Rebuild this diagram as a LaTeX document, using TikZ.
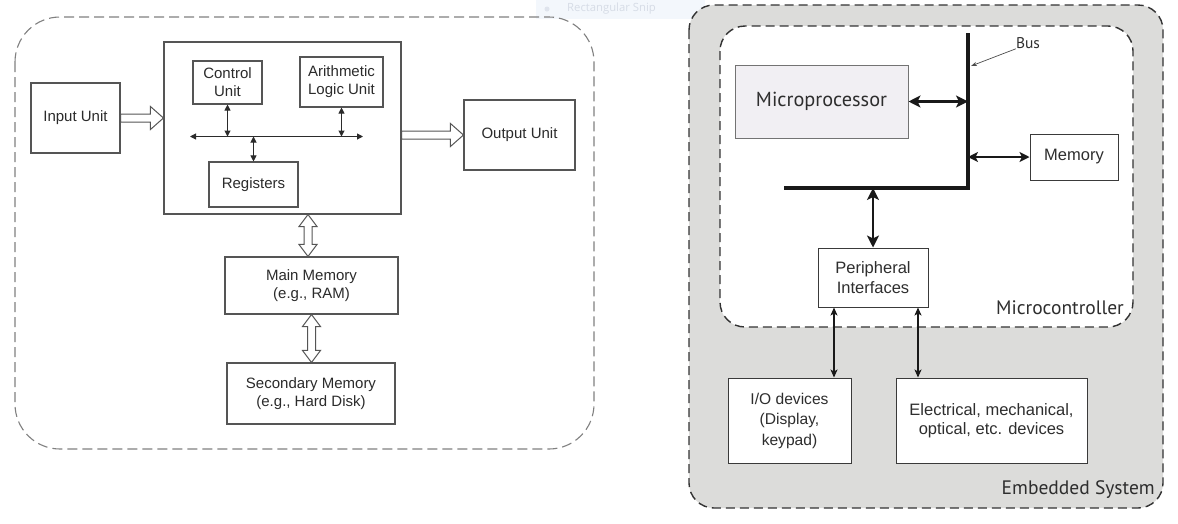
\documentclass[tikz,border=0pt]{standalone}
\usepackage{fontspec}
\setmainfont{Liberation Sans}
\newfontfamily\myr{PT Sans}
\newfontfamily\seg{Open Sans}
\usetikzlibrary{arrows.meta,calc}
\definecolor{lline}{HTML}{555555}
\definecolor{ltext}{HTML}{2B2B2B}
\definecolor{rline}{HTML}{3A3A3A}
\definecolor{rtext}{HTML}{2E2E2E}
\definecolor{panelgray}{HTML}{DCDCDA}
\definecolor{mpfill}{HTML}{F1EFF3}
\definecolor{snipbg}{HTML}{F3F7FC}
\definecolor{sniptext}{HTML}{D6DCE6}
\tikzset{
  lbox/.style={draw=lline, line width=1.1pt, fill=white, inner sep=0pt, align=center,
    text=ltext, font=\fontsize{15}{18}\selectfont},
  rbox/.style={draw=rline, line width=1pt, fill=white, inner sep=0pt, align=center,
    text=rtext, font=\fontsize{16.5}{19.5}\selectfont},
  cpubi/.style={draw=ltext, line width=1pt,
    {Triangle[length=6pt,width=6pt]}-{Triangle[length=6pt,width=6pt]}},
  hollow/.style={draw=lline, line width=1pt, fill=white, line join=miter},
  busline/.style={draw=black!90, line width=3.2pt, line join=miter, line cap=butt},
  thickbi/.style={draw=black!90, line width=2.5pt,
    {Stealth[length=12pt,width=12pt,inset=3pt]}-{Stealth[length=12pt,width=12pt,inset=3pt]}},
  medbi/.style={draw=black!90, line width=2pt,
    {Stealth[length=10pt,width=10pt,inset=2.5pt]}-{Stealth[length=10pt,width=10pt,inset=2.5pt]}},
  thinbi/.style={draw=black!90, line width=1.3pt,
    {Stealth[length=8pt,width=7pt,inset=2pt]}-{Stealth[length=8pt,width=7pt,inset=2pt]}},
  lbl/.style={inner sep=0pt, text=rtext, font=\myr\fontsize{19.5}{22}\selectfont},
}
\newcommand{\hollowH}[2]{%
  \draw[hollow] ($(#1)+(0,-4)$) -- ($(#2)+(-13,-4)$) -- ($(#2)+(-13,-11.5)$) -- (#2)
    -- ($(#2)+(-13,11.5)$) -- ($(#2)+(-13,4)$) -- ($(#1)+(0,4)$) -- cycle;}
\newcommand{\hollowV}[2]{%
  \draw[hollow] (#1) -- ($(#1)+(9,12)$) -- ($(#1)+(4,12)$) -- ($(#2)+(4,-12)$)
    -- ($(#2)+(9,-12)$) -- (#2) -- ($(#2)+(-9,-12)$) -- ($(#2)+(-4,-12)$)
    -- ($(#1)+(-4,12)$) -- ($(#1)+(-9,12)$) -- cycle;}
\begin{document}
\begin{tikzpicture}[x=1pt,y=-1pt]
\useasboundingbox (0,0) rectangle (1178,523);
\fill[white] (0,0) rectangle (1178,523);

% faint overlay band
\fill[snipbg] (536,0) rectangle (705,19);
\fill[sniptext!70!snipbg] (547,9) circle (2.5);
\node[anchor=west, inner sep=0pt, text=sniptext, font=\seg\fontsize{11.3}{13}\selectfont] (snip) at (567,9) {Rectangular Snip};

% ---------- left panel ----------
\draw[draw=black!50, line width=1.1pt, dash pattern=on 10pt off 5pt, rounded corners=45pt]
  (15,17) rectangle (594,449);

\node[lbox, minimum width=89pt, minimum height=70pt] (inp) at (75.5,118) {Input Unit};
\node[lbox, minimum width=237pt, minimum height=172pt] (cpu) at (282.5,128) {};
\node[lbox, minimum width=69pt, minimum height=43pt] (cu) at (227.5,82.5) {Control\\Unit};
\node[lbox, minimum width=83pt, minimum height=50pt] (alu) at (341.5,82) {Arithmetic\\Logic Unit};
\node[lbox, minimum width=89pt, minimum height=45pt] (reg) at (253.5,184.5) {Registers};
\node[lbox, minimum width=111pt, minimum height=70pt] (out) at (519.5,135) {Output Unit};
\node[lbox, minimum width=173pt, minimum height=57pt] (mm) at (311.5,285.5) {Main Memory\\(e.g., RAM)};
\node[lbox, minimum width=168pt, minimum height=61pt] (sm) at (311,393.5) {Secondary Memory\\(e.g., Hard Disk)};

\coordinate (busL) at (190,136.5);
\coordinate (busR) at (363,136.5);
\draw[cpubi] (busL) -- (busR);
\draw[cpubi] (cu.south) -- (cu.south |- busL);
\draw[cpubi] (alu.south) -- (alu.south |- busL);
\draw[cpubi] (reg.north |- busL) -- (reg.north);

\coordinate (ia) at (inp.east);
\coordinate (ib) at (cpu.west |- inp.east);
\hollowH{ia}{ib}
\coordinate (oa) at (cpu.east |- out.west);
\coordinate (ob) at (out.west);
\hollowH{oa}{ob}
\coordinate (cmx) at (308,0);
\coordinate (va) at (cpu.south -| cmx);
\coordinate (vb) at (mm.north -| cmx);
\hollowV{va}{vb}
\coordinate (wa) at (mm.south);
\coordinate (wb) at (sm.north -| mm.south);
\hollowV{wa}{wb}

% ---------- right panel ----------
\draw[fill=panelgray, draw=black!80, line width=1.4pt, dash pattern=on 9pt off 5pt, rounded corners=25pt]
  (689,5) rectangle (1163,508);
\draw[fill=white, draw=black!80, line width=1.4pt, dash pattern=on 9pt off 5pt, rounded corners=25pt]
  (720,26) rectangle (1133,327);

\node[rbox, fill=mpfill, draw=black!55, minimum width=173pt, minimum height=73pt,
  font=\myr\fontsize{20.3}{23}\selectfont] (mp) at (821.5,101.5) {Microprocessor};
\node[rbox, minimum width=88pt, minimum height=46pt] (mem) at (1074,157) {Memory};
\node[rbox, minimum width=110pt, minimum height=59pt] (pi) at (873,277.5) {Peripheral\\Interfaces};
\node[rbox, minimum width=123pt, minimum height=85pt, font=\fontsize{15.6}{20.5}\selectfont] (io) at (789.5,420.5) {I/O devices\\(Display,\\keypad)};
\node[rbox, minimum width=191pt, minimum height=85pt] (el) at (991.5,420.5) {Electrical, mechanical,\\optical, etc. devices};

\coordinate (busTop) at (968,33);
\coordinate (busCorner) at (968,188);
\coordinate (busLeft) at (784,188);
\draw[busline] (busTop) -- (busCorner) -- (busLeft);

\draw[thickbi] (mp.east) -- (mp.east -| busTop);
\draw[medbi] (mem.west -| busTop) -- (mem.west);
\draw[thickbi] (pi.north |- busCorner) -- (pi.north);

\coordinate (t1) at (834,0);
\coordinate (t2) at (918,0);
\draw[thinbi] (pi.south -| t1) -- (io.north -| t1);
\draw[thinbi] (pi.south -| t2) -- (el.north -| t2);

\node[lbl, font=\myr\fontsize{15.5}{18}\selectfont] (buslbl) at (1028,43) {Bus};
\coordinate (busPt) at (971,66);
\draw[draw=black!70, line width=0.7pt, -{Stealth[length=6pt,width=4pt]}] (buslbl.south west) -- (busPt);

\node[lbl, anchor=east] (mclbl) at (1124,308) {Microcontroller};
\node[lbl, anchor=east] (eslbl) at (1155,490) {Embedded System};
\end{tikzpicture}
\end{document}
